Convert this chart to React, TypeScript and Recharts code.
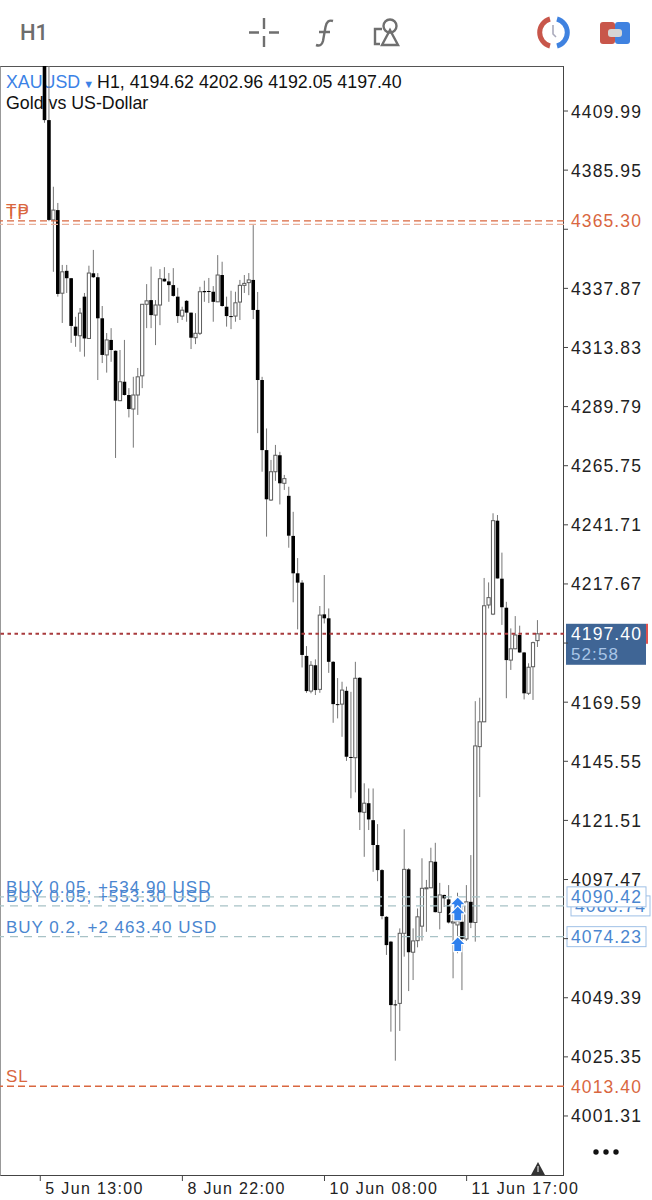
import { Bar, ComposedChart, ReferenceDot, ReferenceLine, XAxis, YAxis } from 'recharts';

const opens = [4445, 4406.3, 4365.7, 4369.7, 4335.9, 4345.0, 4342.0, 4322.3, 4318.6, 4334.5, 4317.5, 4344.0, 4342.4, 4325.7, 4310.8, 4316.9, 4312.5, 4292.2, 4299.9, 4294.5, 4288.8, 4294.5, 4302.3, 4331.4, 4333.1, 4327.0, 4331.1, 4341.8, 4340.7, 4339.2, 4334.5, 4326.6, 4332.8, 4328.0, 4317.8, 4319.6, 4336.8, 4336.8, 4336.5, 4332.4, 4343.3, 4330.4, 4326.6, 4326.6, 4332.3, 4339.1, 4340.2, 4341.3, 4329.1, 4300.6, 4272.1, 4251.8, 4263.3, 4270.0, 4258.6, 4253.5, 4237.2, 4222.0, 4218.2, 4188.4, 4174.1, 4184.6, 4174.8, 4205.3, 4203.7, 4186.0, 4168.8, 4168.8, 4174.2, 4147.3, 4147.0, 4179.5, 4124.8, 4128.5, 4121.6, 4111.5, 4101.3, 4082.3, 4072.2, 4046.7, 4047.1, 4075.6, 4101.6, 4067.9, 4072.6, 4078.5, 4093.9, 4094.1, 4104.7, 4084.1, 4091.2, 4089.4, 4079.8, 4079.0, 4080.3, 4073.3, 4088.4, 4080.0, 4151.5, 4161.6, 4209.1, 4205.4, 4243.4, 4219.8, 4208.0, 4186.7, 4191.3, 4196.9, 4189.8, 4173.2, 4184.0, 4194.62];
const highs = [4450, 4430, 4379.2, 4372.6, 4347.4, 4347.4, 4342.1, 4326.3, 4329.9, 4336.0, 4347.1, 4353.5, 4344.1, 4330.7, 4319.7, 4321.7, 4312.6, 4312.8, 4316.9, 4297.3, 4301.9, 4305.5, 4331.5, 4339.6, 4346.7, 4333.1, 4345.7, 4346.5, 4344.1, 4346.1, 4338.1, 4330.4, 4333.1, 4328.0, 4327.8, 4338.5, 4341.0, 4342.1, 4338.8, 4351.4, 4348.7, 4334.5, 4336.9, 4336.5, 4341.3, 4343.3, 4344.1, 4363.6, 4336.4, 4301.9, 4280.9, 4268.1, 4274.2, 4271.4, 4262.0, 4257.2, 4247.0, 4228.2, 4219.2, 4192.4, 4186.3, 4187.0, 4208.7, 4221.3, 4207.7, 4186.3, 4179.4, 4177.9, 4175.9, 4173.8, 4186.0, 4179.8, 4136.6, 4134.5, 4134.5, 4120.0, 4101.7, 4082.6, 4072.5, 4048.5, 4077.6, 4117.9, 4102.1, 4077.6, 4085.7, 4106.1, 4097.3, 4110.4, 4112.4, 4096.1, 4091.3, 4095.2, 4085.0, 4092.1, 4087.1, 4095.2, 4107.4, 4170.0, 4171.4, 4220.1, 4218.3, 4246.4, 4245.7, 4230.4, 4210.4, 4199.6, 4204.6, 4200.7, 4190.0, 4185.4, 4194.2, 4202.96];
const lows = [4405.2, 4365.2, 4344.6, 4334.5, 4323.8, 4336.0, 4315.7, 4314.1, 4312.1, 4310.1, 4317.4, 4342.1, 4300.6, 4307.5, 4303.6, 4308.0, 4268.9, 4292.0, 4294.3, 4285.4, 4273.1, 4286.4, 4297.3, 4321.7, 4321.7, 4314.8, 4322.9, 4340.6, 4332.4, 4334.5, 4323.8, 4325.0, 4324.3, 4313.2, 4315.2, 4318.9, 4332.4, 4331.9, 4324.3, 4332.3, 4330.4, 4322.3, 4321.3, 4324.3, 4325.0, 4336.0, 4335.1, 4325.4, 4279.0, 4263.3, 4236.9, 4251.4, 4259.6, 4250.0, 4255.9, 4232.4, 4210.2, 4199.2, 4183.7, 4173.4, 4173.2, 4172.5, 4173.4, 4201.6, 4181.5, 4161.2, 4163.0, 4155.5, 4145.7, 4130.5, 4132.9, 4117.6, 4106.7, 4117.6, 4100.6, 4096.8, 4081.3, 4066.8, 4035.6, 4023.8, 4035.9, 4066.1, 4052.1, 4056.6, 4069.9, 4072.6, 4076.2, 4093.9, 4084.1, 4077.2, 4086.3, 4079.6, 4057.3, 4067.5, 4052.5, 4072.5, 4077.7, 4072.2, 4131.0, 4161.5, 4207.7, 4205.0, 4219.9, 4201.0, 4171.2, 4182.7, 4191.1, 4189.7, 4170.7, 4172.5, 4170.5, 4192.05];
const closes = [4406.3, 4365.7, 4369.7, 4335.6, 4344.6, 4342.0, 4322.6, 4318.6, 4327.8, 4317.5, 4344.1, 4342.4, 4325.7, 4310.8, 4316.9, 4312.8, 4292.2, 4299.9, 4294.5, 4288.8, 4294.5, 4301.9, 4331.4, 4332.8, 4327.0, 4331.1, 4341.8, 4340.7, 4339.2, 4334.8, 4326.6, 4329.0, 4328.0, 4317.8, 4319.6, 4336.5, 4336.3, 4336.4, 4332.4, 4343.3, 4330.7, 4326.6, 4326.4, 4332.0, 4339.1, 4339.9, 4341.3, 4329.1, 4300.6, 4272.1, 4252.1, 4263.3, 4270.0, 4258.6, 4260.5, 4237.3, 4222.0, 4218.2, 4188.8, 4174.1, 4184.6, 4174.5, 4205.0, 4203.7, 4186.0, 4168.8, 4168.4, 4174.5, 4147.4, 4146.9, 4179.3, 4124.8, 4128.5, 4121.9, 4111.5, 4101.3, 4082.6, 4070.8, 4046.4, 4046.3, 4075.6, 4101.6, 4067.9, 4072.5, 4082.3, 4093.9, 4094.1, 4104.7, 4084.2, 4091.2, 4089.8, 4080.0, 4080.3, 4080.6, 4073.3, 4088.4, 4079.9, 4151.8, 4161.6, 4208.8, 4212.1, 4243.4, 4219.9, 4208.2, 4186.7, 4191.3, 4196.9, 4189.8, 4173.2, 4183.8, 4193.8, 4197.40];

const priceTicks = [4409.99, 4385.95, 4361.91, 4337.87, 4313.83, 4289.79, 4265.75, 4241.71, 4217.67, 4193.63, 4169.59, 4145.55, 4121.51, 4097.47, 4073.43, 4049.39, 4025.35, 4001.31];
const coveredTicks = [4361.91, 4193.63, 4073.43];
const timeTicks = [-1, 31, 63, 95];
const timeLabels = ['5 Jun 13:00', '8 Jun 22:00', '10 Jun 08:00', '11 Jun 17:00'];

const TP_COLOR = '#d9673f';
const BUY_COLOR = '#4a86d0';
const AXIS_FONT = '"Liberation Sans", Arial, sans-serif';

const candles = opens.map((open, index) => ({
  index,
  open,
  high: highs[index],
  low: lows[index],
  close: closes[index],
  range: [lows[index], highs[index]],
}));

function Candle(props: any) {
  const { x, y, width, height, payload } = props;
  const { open, close, high, low } = payload;
  const perPrice = height / (high - low);
  const cx = x + width / 2;
  const top = y + (high - Math.max(open, close)) * perPrice;
  const bottom = y + (high - Math.min(open, close)) * perPrice;
  const down = close < open;
  return (
    <g>
      <line x1={cx} x2={cx} y1={y} y2={y + height} stroke="#777" strokeWidth={1} />
      {down ? (
        <rect x={cx - 1.8} y={top} width={3.6} height={Math.max(bottom - top, 1)} fill="#000" />
      ) : (
        <rect x={cx - 1.6} y={top} width={3.2} height={Math.max(bottom - top, 1)} fill="#fff" stroke="#5c5c5c" strokeWidth={1} />
      )}
    </g>
  );
}

function PriceTick({ x, y, payload }: any) {
  return (
    <g>
      <line x1={x - 8} x2={x - 4} y1={y} y2={y} stroke="#444" />
      {!coveredTicks.includes(payload.value) && (
        <text x={x - 1} y={y + 6.5} fontSize={17.5} letterSpacing={1.1} fill="#222" fontFamily={AXIS_FONT}>
          {payload.value.toFixed(2)}
        </text>
      )}
    </g>
  );
}

function TimeTick({ x, y, index }: any) {
  return (
    <g>
      <line x1={x} x2={x} y1={y - 8} y2={y - 3} stroke="#444" />
      <text x={x + 5} y={y + 10} fontSize={16} letterSpacing={1.35} fill="#222" fontFamily={AXIS_FONT}>
        {timeLabels[index]}
      </text>
    </g>
  );
}

// text on the line plus the price tag in the right margin
function LineTag({ viewBox, caption, captionDy = -4, price, color, boxed, shiftX = 0 }: any) {
  const { x, y, width } = viewBox;
  const right = x + width;
  return (
    <g fontFamily={AXIS_FONT}>
      {caption && (
        <text x={x + 6} y={y + captionDy} fontSize={17} letterSpacing={1} fill={color}>
          {caption}
        </text>
      )}
      {price && (
        <g>
          <rect
            x={right + 3 + shiftX}
            y={y - 10}
            width={79}
            height={20}
            fill="#fff"
            stroke={boxed ? '#9fc0e6' : 'none'}
          />
          <text x={right + 7 + shiftX} y={y + 6.5} fontSize={17.5} letterSpacing={1.1} fill={color}>
            {price}
          </text>
        </g>
      )}
    </g>
  );
}

function CurrentTag({ viewBox }: any) {
  const right = viewBox.x + viewBox.width;
  return (
    <g fontFamily={AXIS_FONT}>
      <rect x={right + 2} y={viewBox.y - 10} width={80} height={41} fill="#3f6595" />
      <rect x={right + 82} y={viewBox.y - 10} width={2} height={20} fill="#e0524f" />
      <text x={right + 7} y={viewBox.y + 6.5} fontSize={17.5} letterSpacing={1.1} fill="#fff">
        4197.40
      </text>
      <text x={right + 7} y={viewBox.y + 26} fontSize={17} letterSpacing={1.1} fill="#a9c6e8">
        52:58
      </text>
    </g>
  );
}

function BuyArrow({ cx, cy }: any) {
  return (
    <path
      d={`M${cx} ${cy} l8 8 h-4 v7 h-8 v-7 h-4 z`}
      fill="#2f80ed"
      stroke="#fff"
      strokeWidth={1.2}
    />
  );
}

function Toolbar() {
  return (
    <svg width={652} height={64} style={{ position: 'absolute', left: 0, top: 0 }}>
      <text x={20} y={40} fontSize={22} fontWeight={500} fill="#6d6d6d" fontFamily="Roboto, sans-serif">
        H1
      </text>
      <g stroke="#6f6f6f" strokeWidth={2.4} fill="none">
        <path d="M264 18 v11 M264 36 v11 M249 32.5 h10 M269 32.5 h10" />
        <path d="M333 21 q-6 -2 -7.5 6 l-2.5 14 q-1.5 6 -7 4 M319 32 h11" />
        <path d="M382 29 h-7 v15 h5" />
        <circle cx={390} cy={26} r={6.5} />
        <path d="M390 30 l8 15 h-16 z" />
      </g>
      <path d="M550 19 a14 14 0 0 0 0 27" fill="none" stroke="#c8564a" strokeWidth={5} />
      <path d="M557 19 a14 14 0 0 1 0 27" fill="none" stroke="#3f82e0" strokeWidth={5} />
      <path d="M553 25 v9 l3 3" fill="none" stroke="#aab" strokeWidth={1.6} />
      <rect x={600} y={22} width={15} height={22} rx={3} fill="#c8564a" />
      <rect x={615} y={22} width={15} height={22} rx={3} fill="#3f82e0" />
      <rect x={608} y={29} width={14} height={8} rx={3} fill="#d5d5d5" />
    </svg>
  );
}

export default function App() {
  return (
    <div style={{ position: 'absolute', left: 0, top: 0, width: 652, height: 1200, background: '#fff', overflow: 'hidden' }}>
      <Toolbar />
      <div
        style={{
          position: 'absolute',
          left: 0,
          top: 66,
          width: 564,
          height: 1110,
          boxSizing: 'border-box',
          borderTop: '1.5px solid #555',
          borderRight: '1.5px solid #444',
          borderBottom: '1.5px solid #444',
          borderLeft: '1px solid #999',
        }}
      />
      <div style={{ position: 'absolute', left: 6, top: 72, fontFamily: AXIS_FONT, fontSize: 17.8, color: '#111', whiteSpace: 'nowrap' }}>
        <div style={{ height: 21, lineHeight: '20px' }}>
          <span style={{ color: '#3b82e6' }}>XAUUSD</span>
          <span style={{ color: '#3b82e6', fontSize: 11 }}> ▼ </span>
          H1, 4194.62 4202.96 4192.05 4197.40
        </div>
        <div style={{ height: 21, lineHeight: '20px' }}>Gold vs US-Dollar</div>
      </div>
      <div style={{ position: 'absolute', left: 0, top: 0 }}>
        <ComposedChart
          width={652}
          height={1200}
          data={candles}
          margin={{ top: 66, right: 0, bottom: 0, left: 0 }}
        >
          <XAxis
            dataKey="index"
            type="number"
            domain={[-10.07, 116.93]}
            ticks={timeTicks}
            height={24}
            axisLine={false}
            tickLine={false}
            interval={0}
            tick={<TimeTick />}
          />
          <YAxis
            orientation="right"
            width={88}
            domain={[3976.9, 4428.3]}
            ticks={priceTicks}
            allowDataOverflow
            axisLine={false}
            tickLine={false}
            interval={0}
            tick={<PriceTick />}
          />
          <ReferenceLine y={4363.9} stroke="#e9b09a" strokeWidth={1.2} strokeDasharray="7 4" label={<LineTag caption="TP" color={TP_COLOR} captionDy={-5} />} />
          <ReferenceLine y={4365.3} stroke={TP_COLOR} strokeWidth={1.2} strokeDasharray="7 4" label={<LineTag caption="TP" color={TP_COLOR} captionDy={-5} price="4365.30" />} />
          <ReferenceLine y={4086.74} stroke="#a8c2c6" strokeWidth={1.2} strokeDasharray="8 6" label={<LineTag caption="BUY 0.05, +553.30 USD" color={BUY_COLOR} price="4086.74" boxed shiftX={4} />} />
          <ReferenceLine y={4090.42} stroke="#a8c2c6" strokeWidth={1.2} strokeDasharray="8 6" label={<LineTag caption="BUY 0.05, +534.90 USD" color={BUY_COLOR} price="4090.42" boxed />} />
          <ReferenceLine y={4074.23} stroke="#a8c2c6" strokeWidth={1.2} strokeDasharray="8 6" label={<LineTag caption="BUY 0.2, +2 463.40 USD" color={BUY_COLOR} price="4074.23" boxed />} />
          <ReferenceLine y={4013.4} stroke={TP_COLOR} strokeWidth={1.5} strokeDasharray="7 4" label={<LineTag caption="SL" color={TP_COLOR} price="4013.40" />} />
          <ReferenceLine y={4197.4} stroke="#a83a3c" strokeWidth={2} strokeDasharray="3.5 3.5" label={<CurrentTag />} />
          <Bar dataKey="range" barSize={4} shape={<Candle />} isAnimationActive={false} />
          <ReferenceDot x={93} y={4090.42} shape={<BuyArrow />} />
          <ReferenceDot x={93} y={4086.74} shape={<BuyArrow />} />
          <ReferenceDot x={93} y={4074.23} shape={<BuyArrow />} />
        </ComposedChart>
      </div>
      <svg width={652} height={1200} style={{ position: 'absolute', left: 0, top: 0, pointerEvents: 'none' }}>
        <path d="M531 1175 l7 -13 l7 13 z" fill="#333" />
        <rect x={537.4} y={1166} width={1.2} height={6} fill="#ddd" />
        <circle cx={596} cy={1152} r={2.7} fill="#111" />
        <circle cx={606} cy={1152} r={2.7} fill="#111" />
        <circle cx={616} cy={1152} r={2.7} fill="#111" />
      </svg>
    </div>
  );
}
